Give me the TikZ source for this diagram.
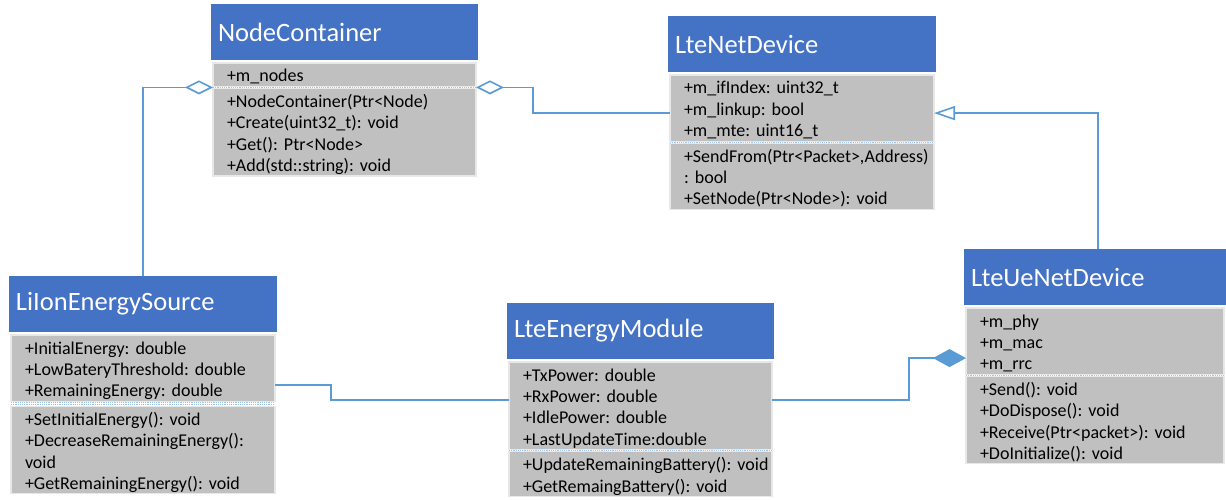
\documentclass[tikz,border=0pt]{standalone}
\usepackage{fontspec}
\setmainfont{Carlito}
\usepackage{tikz}
\usetikzlibrary{arrows.meta,positioning,calc}

\definecolor{titleblue}{HTML}{4472C4}
\definecolor{bodygray}{HTML}{C0C0C0}
\definecolor{edgegray}{HTML}{E8E8E8}
\definecolor{linkblue}{HTML}{5B9BD5}
\definecolor{sepblue}{HTML}{9DC3E6}

\frenchspacing
\newcommand{\members}[1]{{\renewcommand{\arraystretch}{0}%
  \begin{tabular}{@{\hspace{14pt}\rule[-3.4pt]{0pt}{21.4pt}}l@{}}#1\end{tabular}}}

\begin{document}
\begin{tikzpicture}[
    x=1pt, y=-1pt,
    classtitle/.style={fill=titleblue, text=white, font=\fontsize{26.5}{30}\selectfont,
      anchor=north west, text width=#1, inner xsep=7pt, inner ysep=0pt,
      minimum height=56pt, outer sep=0pt, align=left},
    compartment/.style={fill=bodygray, draw=edgegray, line width=1.2pt, text width=#1,
      inner xsep=0pt, inner ysep=1pt, outer sep=0pt, align=left,
      font=\fontsize{18}{21.4}\selectfont},
    sepline/.style={draw=sepblue, densely dotted, line width=1.2pt},
    link/.style={draw=linkblue, line width=1.6pt},
  ]
  \useasboundingbox (0,0) rectangle (1226,500);

  % NodeContainer
  \node[classtitle=253pt] (nc) at (211,4) {NodeContainer};
  \node[compartment=263pt, below=3pt of nc] (ncattr) {\members{+m\_nodes}};
  \node[compartment=263pt, below=2pt of ncattr] (ncops) {\members{+NodeContainer(Ptr<Node)\\
    +Create(uint32\_t): void\\+Get(): Ptr<Node>\\+Add(std::string): void}};
  \draw[sepline] ([yshift=-1pt]ncattr.south west) -- ([yshift=-1pt]ncattr.south east);

  % LteNetDevice
  \node[classtitle=254pt] (nd) at (668,16) {LteNetDevice};
  \node[compartment=264pt, below=3pt of nd] (ndattr) {\members{+m\_ifIndex: uint32\_t\\
    +m\_linkup: bool\\+m\_mte: uint16\_t}};
  \node[compartment=264pt, below=2pt of ndattr] (ndops) {\members{+SendFrom(Ptr<Packet>,Address)\\
    : bool\\+SetNode(Ptr<Node>): void}};
  \draw[sepline] ([yshift=-1pt]ndattr.south west) -- ([yshift=-1pt]ndattr.south east);

  % LiIonEnergySource
  \node[classtitle=254pt] (li) at (9,276) {LiIonEnergySource};
  \node[compartment=264pt, below=3pt of li] (liattr) {\members{+InitialEnergy: double\\
    +LowBateryThreshold: double\\+RemainingEnergy: double}};
  \node[compartment=264pt, below=5pt of liattr] (liops) {\members{+SetInitialEnergy(): void\\
    +DecreaseRemainingEnergy():\\void\\+GetRemainingEnergy(): void}};
  \draw[sepline] ([yshift=-1.6pt]liattr.south west) -- ([yshift=-1.6pt]liattr.south east);
  \draw[sepline] ([yshift=-3.4pt]liattr.south west) -- ([yshift=-3.4pt]liattr.south east);

  % LteEnergyModule
  \node[classtitle=253pt] (em) at (507,303) {LteEnergyModule};
  \node[compartment=263pt, below=3pt of em] (emattr) {\members{+TxPower: double\\
    +RxPower: double\\+IdlePower: double\\+LastUpdateTime:double}};
  \node[compartment=263pt, below=2pt of emattr] (emops) {\members{+UpdateRemainingBattery(): void\\
    +GetRemaingBattery(): void}};
  \draw[sepline] ([yshift=-1pt]emattr.south west) -- ([yshift=-1pt]emattr.south east);

  % LteUeNetDevice
  \node[classtitle=248pt] (ue) at (964,249) {LteUeNetDevice};
  \node[compartment=258pt, below=3pt of ue] (ueattr) {\members{+m\_phy\\+m\_mac\\+m\_rrc}};
  \node[compartment=258pt, below=2pt of ueattr] (ueops) {\members{+Send(): void\\
    +DoDispose(): void\\+Receive(Ptr<packet>): void\\+DoInitialize(): void}};
  \draw[sepline] ([yshift=-1pt]ueattr.south west) -- ([yshift=-1pt]ueattr.south east);

  % relations
  \draw[link, {Diamond[open,length=28pt,width=14pt]}-]
    ([yshift=-1pt]ncattr.south west) -| (li.north);
  \draw[link, {Diamond[open,length=28pt,width=14pt]}-]
    ([yshift=-1pt]ncattr.south east) -- ++(57,0) |- ($(ndattr.west)+(0,5)$);
  \draw[link, -{Triangle[open,length=21pt,width=14pt]}]
    ([xshift=3pt]ue.north) |- ($(ndattr.east)+(0,5)$);
  \draw[link] ($(liattr.east)+(0,17)$) -- ++(56,0) |- ($(emattr.west)+(0,-6)$);
  \draw[link, {Diamond[length=33pt,width=18pt]}-]
    ($(ueattr.west)+(0,17)$) -- ++(-57,0) |- ($(emattr.east)+(0,-6)$);
\end{tikzpicture}
\end{document}
